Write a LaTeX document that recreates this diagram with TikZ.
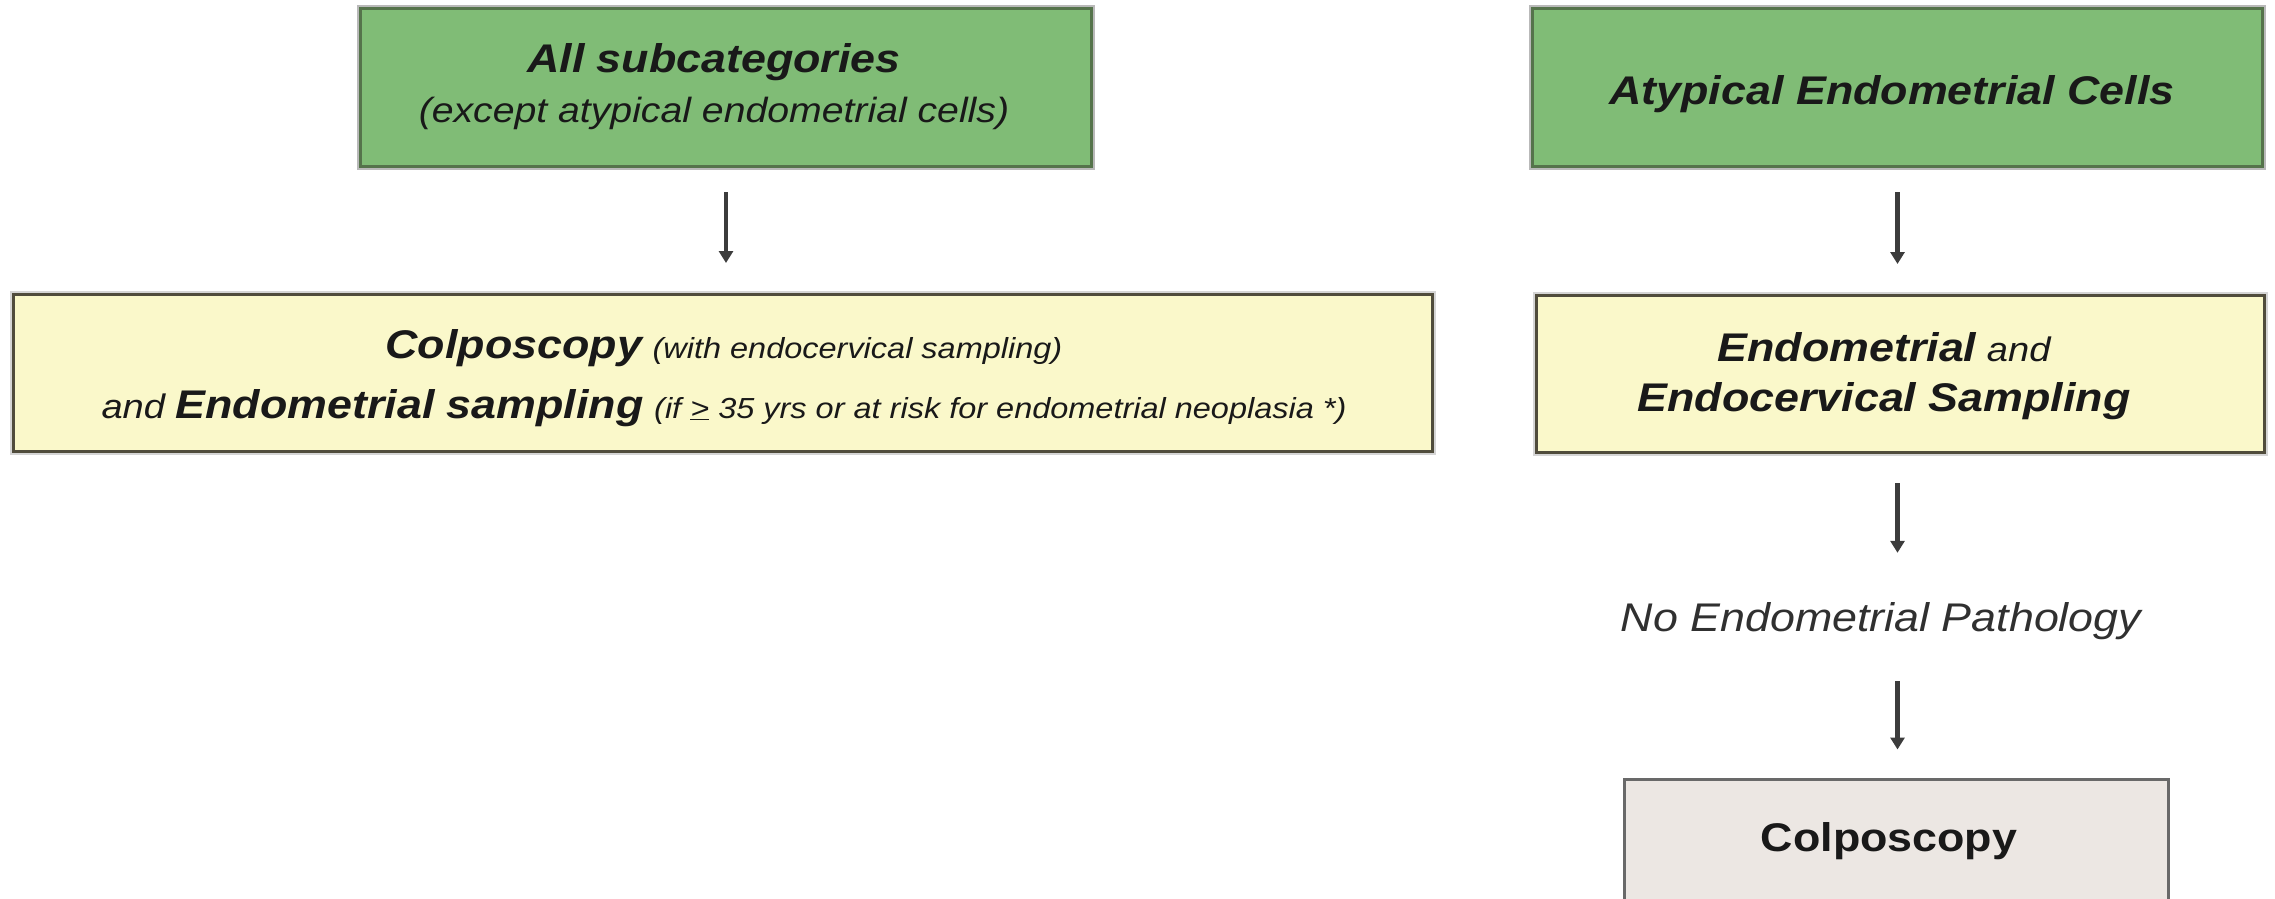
\documentclass[tikz,border=0pt]{standalone}
\usepackage{fontspec}
\setmainfont[FakeStretch=1.12]{Liberation Sans}
\usetikzlibrary{arrows.meta}
\definecolor{gfill}{RGB}{128,188,118}
\definecolor{gline}{RGB}{85,115,75}
\definecolor{shadowc}{RGB}{185,185,185}
\definecolor{yfill}{RGB}{250,248,202}
\definecolor{yline}{RGB}{80,76,60}
\definecolor{grfill}{RGB}{236,231,227}
\definecolor{grline}{RGB}{105,105,105}
\definecolor{arrc}{RGB}{60,60,60}
\definecolor{txtc}{RGB}{25,25,25}
\newcommand\bigbifont{\fontsize{40}{48}\selectfont\bfseries\itshape}
\newcommand\exceptfont{\fontsize{35}{42}\selectfont\itshape}
\newcommand\parenfont{\fontsize{29}{35}\selectfont\itshape}
\newcommand\andfont{\fontsize{34}{40}\selectfont\itshape}
\begin{document}
\begin{tikzpicture}[x=1pt,y=-1pt,
  box/.style={line width=3pt, inner sep=0pt, anchor=center},
  greenbox/.style={box, fill=gfill, draw=gline, preaction={draw=shadowc, line width=7pt}},
  yellowbox/.style={box, fill=yfill, draw=yline, preaction={draw=shadowc!60, line width=7pt}},
  graybox/.style={box, fill=grfill, draw=grline},
  txt/.style={inner sep=0pt, anchor=base, text=txtc, font=\fontsize{34}{40}\selectfont},
  arr/.style={draw=arrc, line width=4.5pt, -{Triangle[width=14pt,length=12pt]}}
]
\useasboundingbox (0,0) rectangle (2275,899);
\clip (0,0) rectangle (2275,899);

% ---- boxes ----
\node[greenbox, minimum width=731pt, minimum height=158pt] (g1) at (726,87.5) {};
\node[yellowbox, minimum width=1419pt, minimum height=157pt] (y1) at (723,373) {};
\node[greenbox, minimum width=730pt, minimum height=158pt] (g2) at (1897.5,87.5) {};
\node[yellowbox, minimum width=728pt, minimum height=157pt] (y2) at (1900.5,374) {};
\node[graybox, minimum width=544pt, minimum height=124pt] (c) at (1896.5,841) {};

% ---- texts ----
\node[txt] (g1a) at (714,73) {\bigbifont All subcategories};
\node[txt] (g1b) at (714,122) {\exceptfont (except atypical endometrial cells)};

\node[txt] (y1a) at (724,358)
  {{\bigbifont Colposcopy} {\parenfont (with endocervical sampling)}};
\node[txt] (y1b) at (724,418)
  {{\andfont and} {\bigbifont Endometrial sampling} {\parenfont (if \underline{>} 35 yrs or at risk for endometrial neoplasia *)}};

\node[txt] (g2a) at (1892,104) {\bigbifont Atypical Endometrial Cells};

\node[txt] (y2a) at (1884,361) {{\bigbifont Endometrial} {\andfont and}};
\node[txt] (y2b) at (1884,411) {\bigbifont Endocervical Sampling};

\node[inner sep=0pt, minimum height=100pt, text=txtc!90,
      font=\fontsize{40}{48}\selectfont\itshape] (ne) at (1881,621)
  {No Endometrial Pathology};

\node[txt] (ca) at (1889,851) {\fontsize{40}{48}\selectfont\bfseries Colposcopy};

% ---- connectors ----
\draw[arr, shorten <=24pt, shorten >=30pt] (g1.south) -- (g1.south |- y1.north);
\draw[arr, shorten <=24pt, shorten >=30pt] (g2.south) -- (g2.south |- y2.north);
\draw[arr, shorten <=29pt, shorten >=18pt] (g2.south |- y2.south) -- (g2.south |- ne.north);
\draw[arr, shorten <=10pt, shorten >=28pt] (g2.south |- ne.south) -- (g2.south |- c.north);
\end{tikzpicture}
\end{document}
